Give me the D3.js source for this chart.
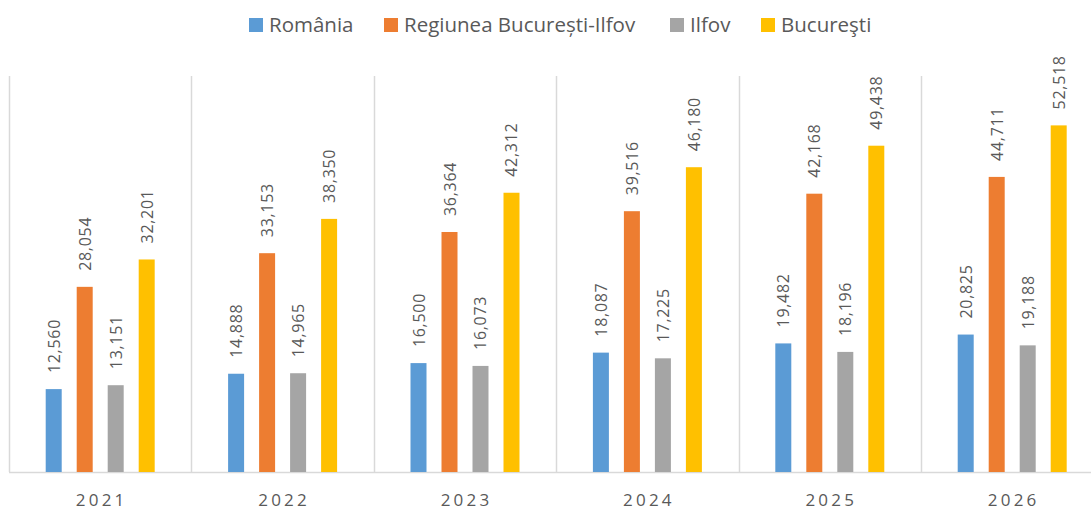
<!DOCTYPE html>
<html>
<head>
<meta charset="utf-8">
<script src="https://cdn.jsdelivr.net/npm/d3@7"></script>
<style>
  body { margin: 0; background: #fff; overflow: hidden; }
  text { font-family: "Open Sans", "Noto Sans", sans-serif; fill: #595959; }
</style>
</head>
<body>
<div id="chart"></div>
<script>
const years = ["2021", "2022", "2023", "2024", "2025", "2026"];
const seriesNames = ["România", "Regiunea București-Ilfov", "Ilfov", "Bucureşti"];
const romania = [12560, 14888, 16500, 18087, 19482, 20825];
const regiunea = [28054, 33153, 36364, 39516, 42168, 44711];
const ilfov = [13151, 14965, 16073, 17225, 18196, 19188];
const bucuresti = [32201, 38350, 42312, 46180, 49438, 52518];
const colors = ["#5b9bd5", "#ed7d31", "#a5a5a5", "#ffc000"];

const width = 1091;
const height = 510;
// the plot area runs past the right edge of the picture
const plotLeft = 9;
const plotRight = 1103.4;
const plotTop = 76;
const plotBottom = 472;

const svg = d3.select("#chart")
  .append("svg")
  .attr("width", width)
  .attr("height", height);

const x0 = d3.scaleBand()
  .domain(years)
  .range([plotLeft, plotRight]);

const x1 = d3.scaleBand()
  .domain(seriesNames)
  .range([0, x0.bandwidth()])
  .paddingInner(0.484)
  .paddingOuter(1.184);

const y = d3.scaleLinear()
  .domain([0, 60000])
  .range([plotBottom, plotTop]);

const data = [romania, regiunea, ilfov, bucuresti];

// vertical separators between year groups
svg.append("g")
  .selectAll("line")
  .data(years)
  .enter()
  .append("line")
  .attr("x1", (d) => Math.round(x0(d)) + 0.5)
  .attr("x2", (d) => Math.round(x0(d)) + 0.5)
  .attr("y1", y(0))
  .attr("y2", plotTop)
  .attr("stroke", "#d9d9d9")
  .attr("stroke-width", 1.5);

// baseline
svg.append("line")
  .attr("x1", plotLeft)
  .attr("x2", plotRight)
  .attr("y1", y(0) + 0.5)
  .attr("y2", y(0) + 0.5)
  .attr("stroke", "#d9d9d9")
  .attr("stroke-width", 1.5);

const groups = svg.selectAll(".year")
  .data(years)
  .enter()
  .append("g")
  .attr("class", "year")
  .attr("transform", (d) => "translate(" + x0(d) + ",0)");

groups.selectAll("rect")
  .data((d, i) => seriesNames.map((s, j) => ({ name: s, value: data[j][i], color: colors[j] })))
  .enter()
  .append("rect")
  .attr("x", (d) => x1(d.name))
  .attr("width", x1.bandwidth())
  .attr("y", (d) => y(d.value))
  .attr("height", (d) => y(0) - y(d.value))
  .attr("fill", (d) => d.color);

groups.selectAll("text.val")
  .data((d, i) => seriesNames.map((s, j) => ({ name: s, value: data[j][i] })))
  .enter()
  .append("text")
  .attr("class", "val")
  .attr("transform", (d) => "translate(" + (x1(d.name) + x1.bandwidth() / 2 + 6) + "," + (y(d.value) - 16) + ") rotate(-90)")
  .style("font-size", "16px")
  .style("letter-spacing", "0.7px")
  .text((d) => d3.format(",")(d.value));

// year labels
svg.append("g")
  .selectAll("text")
  .data(years)
  .enter()
  .append("text")
  .attr("x", (d) => x0(d) + x0.bandwidth() / 2 + 1.5)
  .attr("y", 506)
  .attr("text-anchor", "middle")
  .style("font-size", "17px")
  .style("letter-spacing", "3.2px")
  .text((d) => d);

// legend
const legendX = [249, 384, 670, 761];
const legend = svg.append("g")
  .selectAll("g")
  .data(seriesNames)
  .enter()
  .append("g")
  .attr("transform", (d, i) => "translate(" + legendX[i] + ",18)");

legend.append("rect")
  .attr("width", 14)
  .attr("height", 14)
  .attr("fill", (d, i) => colors[i]);

legend.append("text")
  .attr("x", 20)
  .attr("y", 14)
  .style("font-size", "20.5px")
  .text((d) => d);
</script>
</body>
</html>
